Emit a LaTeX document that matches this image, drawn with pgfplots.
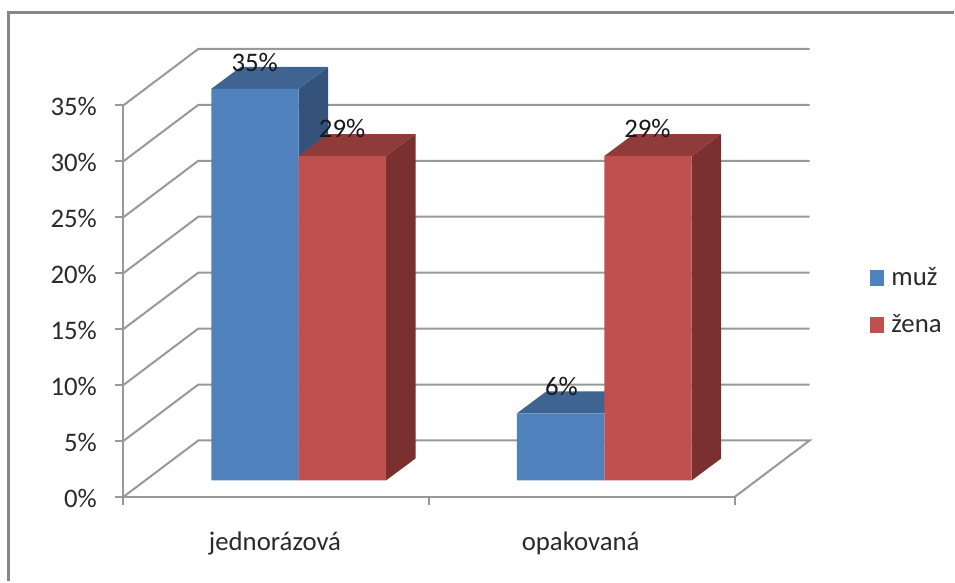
\documentclass[border=0pt]{standalone}
\usepackage{pgfplots}
\pgfplotsset{compat=1.18}
\usepackage{fontspec}
\setmainfont{Carlito}

\definecolor{gridgray}{HTML}{989898}
\definecolor{framegray}{HTML}{868686}
\definecolor{labeltext}{HTML}{2A2A2A}
\definecolor{mufront}{HTML}{4F81BD}
\definecolor{mutop}{HTML}{3F6491}
\definecolor{muside}{HTML}{35537A}
\definecolor{zenafront}{HTML}{C0504D}
\definecolor{zenatop}{HTML}{8E3B39}
\definecolor{zenaside}{HTML}{7A302E}

% the bars stand in the middle of the floor, so all their faces are moved
\pgfplotsset{
    inbar/.style={draw=none, forget plot, xshift=11.25pt, yshift=8.25pt},
    wall/.style={gridgray, line width=1pt, forget plot},
}
\newcommand{\chartfont}{\fontsize{13.4}{15}\selectfont}

\begin{document}
\begin{tikzpicture}
\begin{axis}[
    scale only axis,
    width=306pt,
    height=196pt,
    xmin=0, xmax=2,
    ymin=0, ymax=35,
    clip=false,
    axis x line*=bottom,
    axis y line*=left,
    axis line style={gridgray, line width=1pt, -},
    tick align=outside,
    major tick length=4.25pt,
    minor tick length=4.25pt,
    tick style={gridgray, line width=1pt},
    major x tick style={draw=none},
    xtick={0.5,1.5},
    xticklabels={jednorázová,opakovaná},
    minor xtick={0,1,2},
    ytick={0,5,10,15,20,25,30,35},
    yticklabel={\pgfmathprintnumber{\tick}\%},
    /pgf/number format/assume math mode=true,
    tick label style={font=\chartfont, text=labeltext},
    xticklabel style={yshift=-9.5pt, xshift=-0.6pt},
    yticklabel style={xshift=-5.5pt, yshift=-0.6pt},
    legend style={
        at={(1.2214,0.5)}, anchor=west, draw=none, fill=none,
        inner sep=0pt, outer sep=0pt,
        font=\chartfont, text=labeltext,
        row sep=9pt,
        /tikz/every odd column/.append style={column sep=1.5pt},
    },
    legend cell align=left,
    legend image code/.code={
        \fill[#1, xshift=-11.25pt, yshift=-8.25pt] (0pt,-4pt) rectangle (7.25pt,4pt);
    },
]
% back wall and side wall
\addplot[wall] coordinates {(0,0) (0.2451,5.045) (2.2451,5.045) (2,0)};
\addplot[wall] coordinates {(0,5) (0.2451,10.045) (2.2451,10.045)};
\addplot[wall] coordinates {(0,10) (0.2451,15.045) (2.2451,15.045)};
\addplot[wall] coordinates {(0,15) (0.2451,20.045) (2.2451,20.045)};
\addplot[wall] coordinates {(0,20) (0.2451,25.045) (2.2451,25.045)};
\addplot[wall] coordinates {(0,25) (0.2451,30.045) (2.2451,30.045)};
\addplot[wall] coordinates {(0,30) (0.2451,35.045) (2.2451,35.045)};
\addplot[wall] coordinates {(0,35) (0.2451,40.045) (2.2451,40.045)};

% muz: side and top faces, then the fronts
\addplot[inbar, fill=muside] coordinates {(0.5,35) (0.5964,36.964) (0.5964,1.964) (0.5,0)} -- cycle;
\addplot[inbar, fill=mutop] coordinates {(0.2141,35) (0.5,35) (0.5964,36.964) (0.3105,36.964)} -- cycle;
\addplot[inbar, fill=mutop] coordinates {(1.2141,6) (1.5,6) (1.5964,7.964) (1.3105,7.964)} -- cycle;
\addplot[ybar, bar width=43.75pt, bar shift=-21.875pt, draw=none, fill=mufront,
    xshift=11.25pt, yshift=8.25pt] coordinates {(0.5,35) (1.5,6)};

% zena
\addplot[inbar, fill=zenaside] coordinates {(0.7859,29) (0.8823,30.964) (0.8823,1.964) (0.7859,0)} -- cycle;
\addplot[inbar, fill=zenatop] coordinates {(0.5,29) (0.7859,29) (0.8823,30.964) (0.5964,30.964)} -- cycle;
\addplot[inbar, fill=zenaside] coordinates {(1.7859,29) (1.8823,30.964) (1.8823,1.964) (1.7859,0)} -- cycle;
\addplot[inbar, fill=zenatop] coordinates {(1.5,29) (1.7859,29) (1.8823,30.964) (1.5964,30.964)} -- cycle;
\addplot[ybar, bar width=43.75pt, bar shift=21.875pt, draw=none, fill=zenafront,
    xshift=11.25pt, yshift=8.25pt] coordinates {(0.5,29) (1.5,29)};

\legend{muž,žena}

% data labels
\begin{scope}[every node/.style={font=\chartfont, text=black!90, inner sep=0pt}]
\node at (axis cs:0.4297,38.85) {35\%};
\node at (axis cs:0.7157,32.9) {29\%};
\node at (axis cs:1.4330,9.85) {6\%};
\node at (axis cs:1.7145,32.9) {29\%};
\end{scope}

% outer frame, open at the right and at the bottom
\draw[framegray, line width=1.1pt] (axis cs:-0.3758,-7.545) -- (axis cs:-0.3758,43.30) -- (axis cs:2.7173,43.30);
\path (axis cs:-0.4036,-7.545) rectangle (axis cs:2.7173,44.42);
\end{axis}
\end{tikzpicture}
\end{document}
